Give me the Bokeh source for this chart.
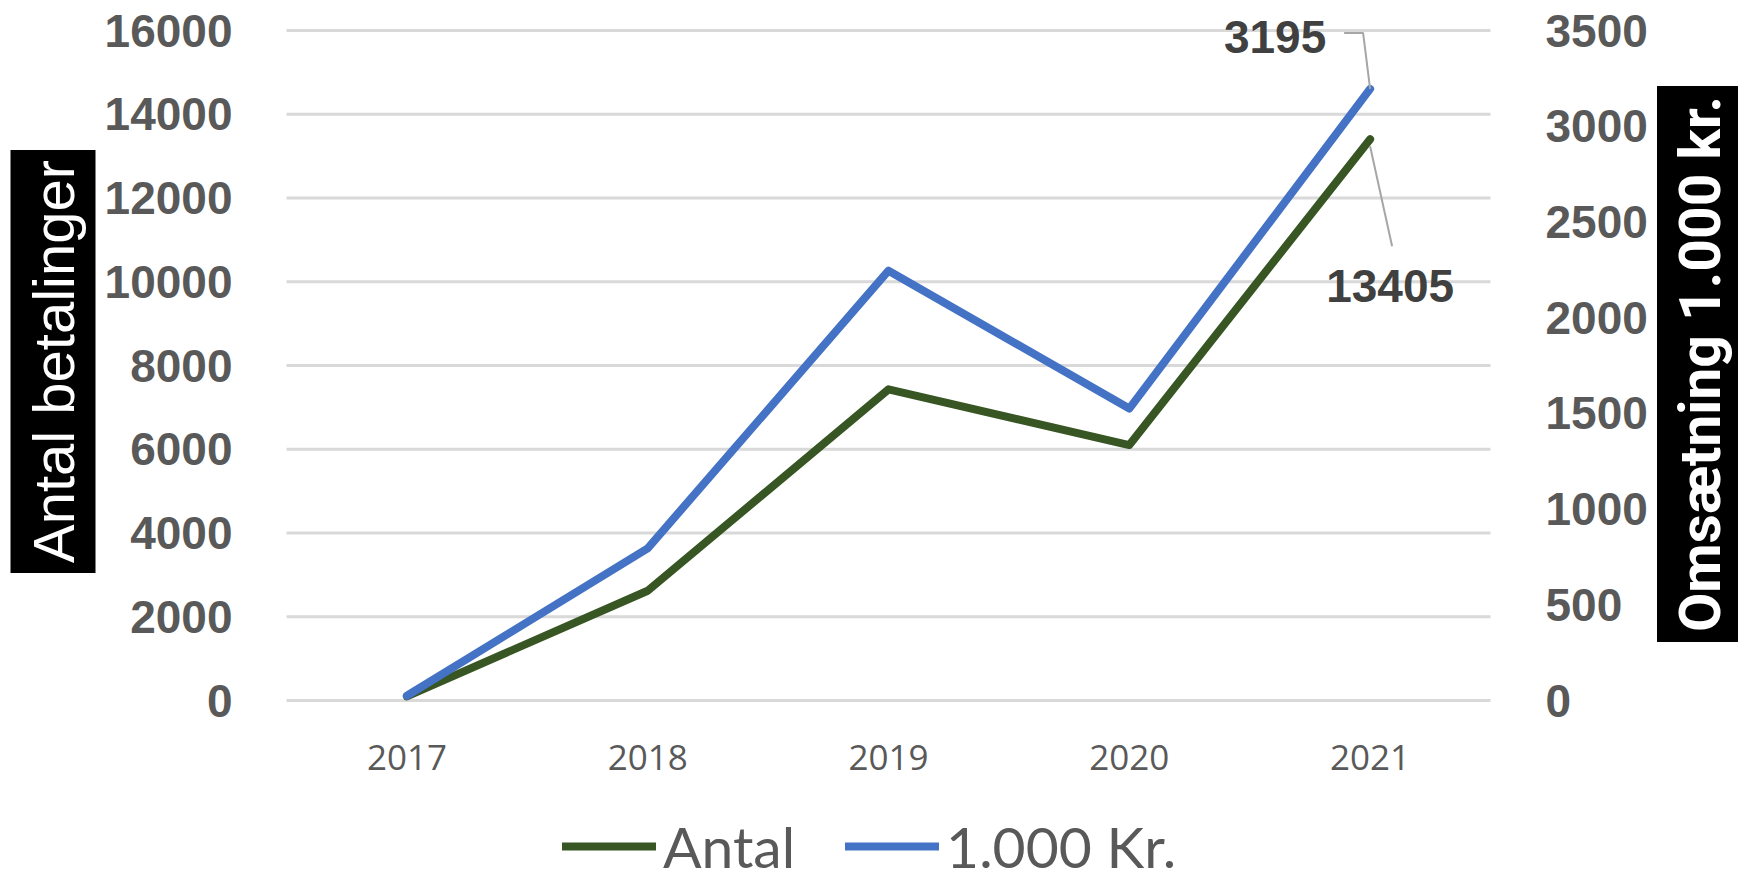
import math
from bokeh.plotting import figure
from bokeh.models import Range1d, LinearAxis, Legend, LegendItem, Label, FixedTicker
from bokeh.embed import file_html
from bokeh.resources import INLINE

# ---- data ----
years = ["2017", "2018", "2019", "2020", "2021"]
antal = [100, 2620, 7430, 6100, 13405]          # Antal betalinger (left axis)
kroner = [25, 795, 2245, 1525, 3195]            # Omsætning 1.000 kr. (right axis)
left_ticks = [0, 2000, 4000, 6000, 8000, 10000, 12000, 14000, 16000]
right_ticks = [0, 500, 1000, 1500, 2000, 2500, 3000, 3500]
left_title = "Antal betalinger"
right_title = "Omsætning 1.000 kr."
series_names = ["Antal", "1.000 Kr."]

GREEN = "#375623"
BLUE = "#4472C4"
GREY = "#595959"
GRID = "#D9D9D9"
TICK_FONT = "Liberation Sans"

# ---- layout (pixels) ----
W, H = 1738, 880
PL, PR, PT, PB = 286, 1490, 30, 700      # plot area inside the canvas
ncat = len(years)
ux = (PR - PL) / ncat                    # px per category
uyl = (left_ticks[-1] - left_ticks[0]) / (PB - PT)
uyr = (right_ticks[-1] - right_ticks[0]) / (PB - PT)

x_range = Range1d(-PL / ux, ncat + (W - PR) / ux)
y_range = Range1d(left_ticks[0] - (H - PB) * uyl, left_ticks[-1] + PT * uyl)

p = figure(x_range=x_range, y_range=y_range, width=W, height=H, title=None,
           output_backend="svg", toolbar_location=None, min_border=0)
p.extra_y_ranges = {"kr": Range1d(right_ticks[0] - (H - PB) * uyr, right_ticks[-1] + PT * uyr)}
p.outline_line_color = None
p.xgrid.visible = False
p.ygrid.visible = False

xs = [i + 0.5 for i in range(ncat)]      # category centres

# grid lines across the plot area only
p.segment(x0=0, x1=ncat, y0=left_ticks, y1=left_ticks, line_color=GRID, line_width=3,
          level="underlay")

def style_axis(ax, font, size, bold, standoff):
    ax.axis_line_color = None
    ax.major_tick_line_color = None
    ax.minor_tick_line_color = None
    ax.major_label_text_font = font
    ax.major_label_text_font_style = "bold" if bold else "normal"
    ax.major_label_text_font_size = size
    ax.major_label_text_color = GREY
    ax.major_label_standoff = standoff

# left axis
ya = p.yaxis[0]
ya.ticker = FixedTicker(ticks=left_ticks)
ya.fixed_location = 0
style_axis(ya, TICK_FONT, "46px", True, 48)

# right axis
ra = LinearAxis(y_range_name="kr", ticker=FixedTicker(ticks=right_ticks))
ra.fixed_location = ncat
style_axis(ra, TICK_FONT, "46px", True, 49)
p.add_layout(ra, "right")

# x axis
xa = p.xaxis[0]
xa.ticker = FixedTicker(ticks=xs)
xa.major_label_overrides = {x: y for x, y in zip(xs, years)}
xa.fixed_location = left_ticks[0]
style_axis(xa, "Open Sans", "35px", False, 38)

# lines
r1 = p.line(xs, antal, color=GREEN, line_width=8, line_join="round", line_cap="round")
r2 = p.line(xs, kroner, y_range_name="kr", color=BLUE, line_width=8,
            line_join="round", line_cap="round")

# data labels for last point, with leader lines
last = ncat - 1
xc = xs[last]
p.line([xc, xc - 7 / ux, xc - 26 / ux],
       [kroner[last], kroner[last] + 56 * uyr, kroner[last] + 56 * uyr],
       y_range_name="kr", color="#A6A6A6", line_width=2)
p.line([xc, xc + 22 / ux],
       [antal[last] - 7 * uyl, antal[last] - 107 * uyl],
       color="#A6A6A6", line_width=2)

p.add_layout(Label(x=xc, y=kroner[last], y_range_name="kr", text=str(kroner[last]),
                   x_offset=-95, y_offset=52, text_align="center", text_baseline="middle",
                   text_font=TICK_FONT, text_font_style="bold", text_font_size="46px",
                   text_color="#404040"))
p.add_layout(Label(x=xc, y=antal[last], text=str(antal[last]),
                   x_offset=20, y_offset=-147, text_align="center", text_baseline="middle",
                   text_font=TICK_FONT, text_font_style="bold", text_font_size="46px",
                   text_color="#404040"))

# axis titles (white on black)
p.add_layout(Label(x=52.5, y=H - 361, x_units="screen", y_units="screen", text=left_title,
                   angle=math.pi / 2, text_align="center", text_baseline="middle",
                   text_font="Liberation Sans", text_font_size="58px", text_color="white",
                   background_fill_color="black", padding=10))
p.add_layout(Label(x=1700, y=H - 363.5, x_units="screen", y_units="screen", text=right_title,
                   angle=math.pi / 2, text_align="center", text_baseline="middle",
                   text_font="Roboto", text_font_style="bold",
                   text_font_size="57px", text_color="white",
                   background_fill_color="black", padding=10))

# legend
legend = Legend(items=[LegendItem(label=series_names[0], renderers=[r1]),
                       LegendItem(label=series_names[1], renderers=[r2])],
                orientation="horizontal", location=(562, 0),
                glyph_width=94, glyph_height=68, label_height=68, label_standoff=7, spacing=50,
                padding=0, margin=0, border_line_color=None, background_fill_alpha=0,
                label_text_font="Lato", label_text_font_size="57px",
                label_text_color=GREY)
p.add_layout(legend)

open("out.html", "w").write(file_html(p, INLINE))
